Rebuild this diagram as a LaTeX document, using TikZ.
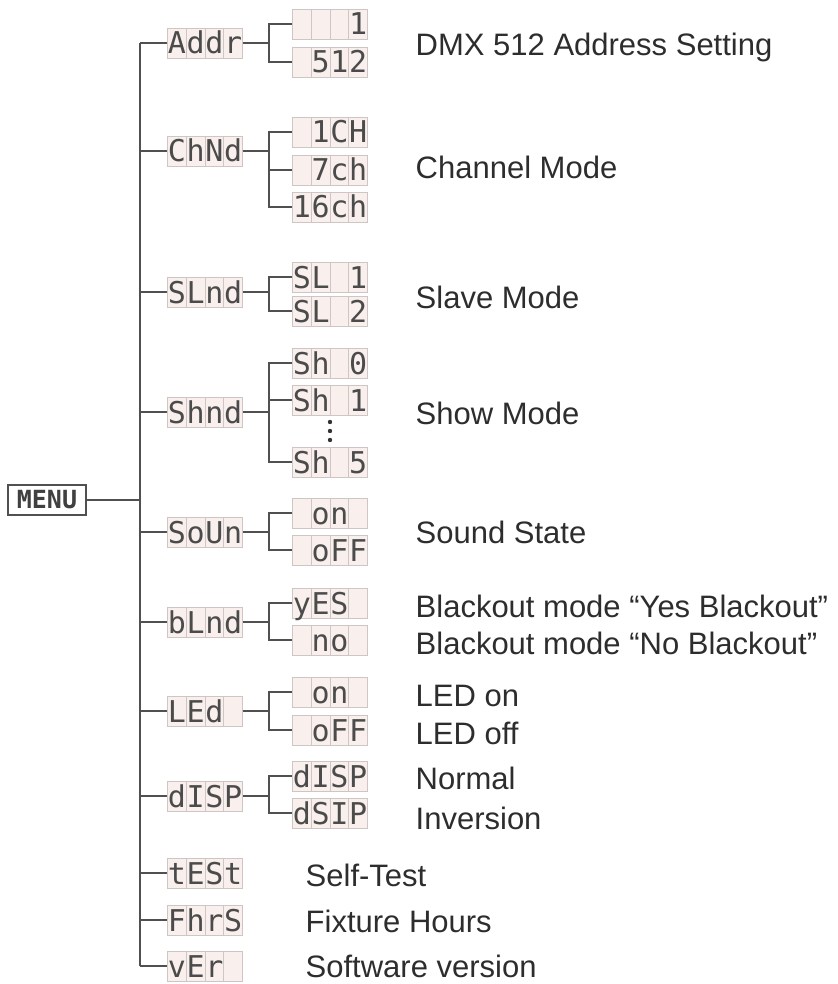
\documentclass[tikz,border=0pt]{standalone}
\usepackage{fontspec}
\setmainfont{Liberation Sans}
\newfontfamily\lcdfont{DejaVu Sans Mono}
\usetikzlibrary{calc}
\definecolor{wirecol}{RGB}{80,80,80}
\definecolor{lcdfill}{RGB}{249,240,238}
\definecolor{lcdedge}{RGB}{205,198,196}
\definecolor{lcdtext}{RGB}{75,75,75}
\definecolor{lbltext}{RGB}{45,45,45}
\newcommand{\lcd}[4]{\makebox[18.75pt]{#1}\makebox[18.75pt]{#2}\makebox[18.75pt]{#3}\makebox[18.75pt]{#4}}

\begin{document}
\begin{tikzpicture}[x=1pt,y=-1pt,line width=1.4pt,color=wirecol]
    \tikzstyle{lcd}=[draw=lcdedge,line width=0.8pt,fill=lcdfill,inner sep=0pt,
      minimum width=75pt,minimum height=30pt,text height=22pt,text depth=0pt,
      text=lcdtext,font=\lcdfont\fontsize{30}{30}\selectfont,
      path picture={\foreach \i in {1,2,3}
        \draw[lcdedge,line width=0.6pt]
          ($(path picture bounding box.north west)!\i/4!(path picture bounding box.north east)$) --
          ($(path picture bounding box.south west)!\i/4!(path picture bounding box.south east)$);}];
    \tikzstyle{lbl}=[anchor=west,inner sep=0pt,text height=22pt,text depth=0pt,
      text=lbltext,font=\fontsize{31}{36}\selectfont];
    \tikzstyle{menubox}=[draw=wirecol,line width=1.6pt,inner sep=0pt,minimum width=78pt,
      minimum height=30pt,text=black!75,font=\lcdfont\bfseries\fontsize{25}{25}\selectfont];
    \useasboundingbox (0,0) rectangle (837,984);

    \node at (47, 500) (menu) [menubox] {MENU};

    \node at (205, 43)  (addr) [lcd] {\lcd{A}{d}{d}{r}};
    \node at (205, 151) (chnd) [lcd] {\lcd{C}{h}{N}{d}};
    \node at (205, 292) (slnd) [lcd] {\lcd{S}{L}{n}{d}};
    \node at (205, 412) (shnd) [lcd] {\lcd{S}{h}{n}{d}};
    \node at (205, 532) (soun) [lcd] {\lcd{S}{o}{U}{n}};
    \node at (205, 622) (blnd) [lcd] {\lcd{b}{L}{n}{d}};
    \node at (205, 711) (led)  [lcd] {\lcd{L}{E}{d}{}};
    \node at (205, 796) (disp) [lcd] {\lcd{d}{I}{S}{P}};
    \node at (205, 873) (test) [lcd] {\lcd{t}{E}{S}{t}};
    \node at (205, 920) (fhrs) [lcd] {\lcd{F}{h}{r}{S}};
    \node at (205, 966) (ver)  [lcd] {\lcd{v}{E}{r}{}};

    \node at (330, 24)  (adr1)   [lcd] {\lcd{}{}{}{1}};
    \node at (330, 62)  (adr512) [lcd] {\lcd{}{5}{1}{2}};
    \node at (330, 132) (ch1)    [lcd] {\lcd{}{1}{C}{H}};
    \node at (330, 170) (ch7)    [lcd] {\lcd{}{7}{c}{h}};
    \node at (330, 207) (ch16)   [lcd] {\lcd{1}{6}{c}{h}};
    \node at (330, 277) (sl1)    [lcd] {\lcd{S}{L}{}{1}};
    \node at (330, 311) (sl2)    [lcd] {\lcd{S}{L}{}{2}};
    \node at (330, 363) (sh0)    [lcd] {\lcd{S}{h}{}{0}};
    \node at (330, 400) (sh1)    [lcd] {\lcd{S}{h}{}{1}};
    \node at (330, 462) (sh5)    [lcd] {\lcd{S}{h}{}{5}};
    \node at (330, 513) (sndon)  [lcd] {\lcd{}{o}{n}{}};
    \node at (330, 550) (sndoff) [lcd] {\lcd{}{o}{F}{F}};
    \node at (330, 603) (bkyes)  [lcd] {\lcd{y}{E}{S}{}};
    \node at (330, 640) (bkno)   [lcd] {\lcd{}{n}{o}{}};
    \node at (330, 692) (ledon)  [lcd] {\lcd{}{o}{n}{}};
    \node at (330, 730) (ledoff) [lcd] {\lcd{}{o}{F}{F}};
    \node at (330, 776) (dnorm)  [lcd] {\lcd{d}{I}{S}{P}};
    \node at (330, 813) (dinv)   [lcd] {\lcd{d}{S}{I}{P}};

    \foreach \y in {422,431,440} \fill[black!80] (330, \y) circle (2.2pt);

    \node at (415, 45)  (laddr) [lbl] {DMX 512 Address Setting};
    \node at (415, 168) (lchnd) [lbl] {Channel Mode};
    \node at (415, 297) (lslnd) [lbl] {Slave Mode};
    \node at (415, 413) (lshnd) [lbl] {Show Mode};
    \node at (415, 532) (lsoun) [lbl] {Sound State};
    \node at (415, 606) (lbkyes) [lbl] {Blackout mode “Yes Blackout”};
    \node at (415, 643) (lbkno) [lbl] {Blackout mode “No Blackout”};
    \node at (415, 695) (lledon) [lbl] {LED on};
    \node at (415, 733) (lledoff) [lbl] {LED off};
    \node at (415, 778) (lnorm) [lbl] {Normal};
    \node at (415, 818) (linv) [lbl] {Inversion};
    \node at (305, 875) (ltest) [lbl] {Self-Test};
    \node at (305, 921) (lfhrs) [lbl] {Fixture Hours};
    \node at (305, 966) (lver) [lbl] {Software version};

    \coordinate (ttop) at (140, 43);
    \coordinate (tbot) at (140, 966);
    \draw (ttop) -- (tbot);
    \draw (menu) -- (menu -| ttop);
    \draw (ttop) -- (addr);
    \draw (tbot) -- (ver);
    \foreach \n in {chnd,slnd,shnd,soun,blnd,led,disp,test,fhrs}
      \draw (\n -| ttop) -- (\n);

    \foreach \c in {adr1,adr512} \draw (addr.east) -- ++(26,0) |- (\c);
    \foreach \c in {ch1,ch7,ch16} \draw (chnd.east) -- ++(26,0) |- (\c);
    \foreach \c in {sl1,sl2} \draw (slnd.east) -- ++(26,0) |- (\c);
    \foreach \c in {sh0,sh1,sh5} \draw (shnd.east) -- ++(26,0) |- (\c);
    \foreach \c in {sndon,sndoff} \draw (soun.east) -- ++(26,0) |- (\c);
    \foreach \c in {bkyes,bkno} \draw (blnd.east) -- ++(26,0) |- (\c);
    \foreach \c in {ledon,ledoff} \draw (led.east) -- ++(26,0) |- (\c);
    \foreach \c in {dnorm,dinv} \draw (disp.east) -- ++(26,0) |- (\c);
\end{tikzpicture}
\end{document}
